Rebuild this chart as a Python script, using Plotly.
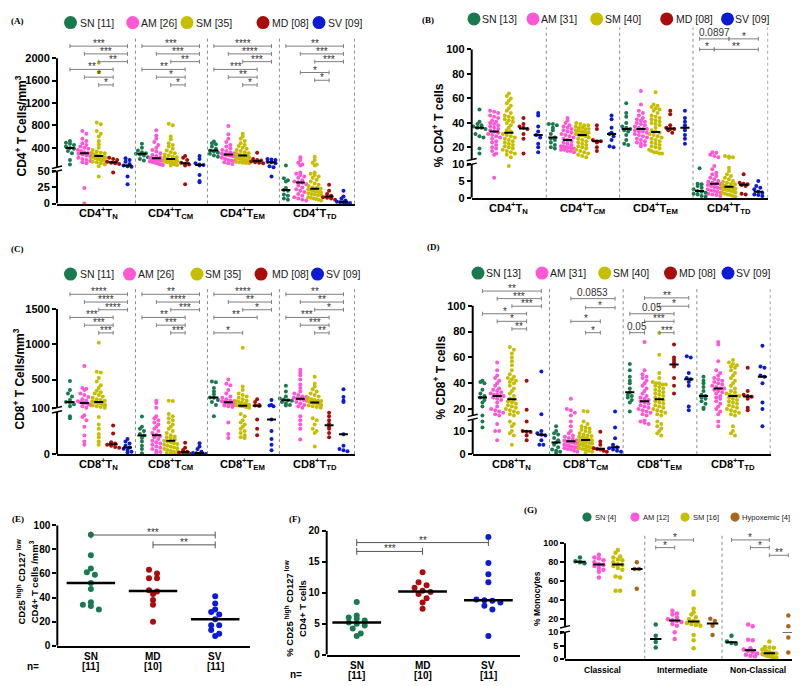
import numpy as np
import plotly.graph_objects as go

W, H = 800, 686
OFF = 8  # the page body margin shifts the figure by this many pixels
SANS = "Liberation Sans, Arial, Helvetica, sans-serif"
SERIF = "Liberation Serif, Times New Roman, serif"

C_SN, C_AM, C_SM, C_MD, C_SV, C_HY = "#197a50", "#ff57d6", "#c6bf00", "#aa0b0b", "#0b1bd6", "#a9661f"
COLORS5 = [C_SN, C_AM, C_SM, C_MD, C_SV]

LEG_A = ["SN [11]", "AM [26]", "SM [35]", "MD [08]", "SV [09]"]
LEG_B = ["SN [13]", "AM [31]", "SM [40]", "MD [08]", "SV [09]"]
LEG_G = ["SN [4]", "AM [12]", "SM [16]", "Hypoxemic [4]"]
CD4_SUBSETS = ["CD4<sup>+</sup>T<sub>N</sub>", "CD4<sup>+</sup>T<sub>CM</sub>",
               "CD4<sup>+</sup>T<sub>EM</sub>", "CD4<sup>+</sup>T<sub>TD</sub>"]
CD8_SUBSETS = ["CD8<sup>+</sup>T<sub>N</sub>", "CD8<sup>+</sup>T<sub>CM</sub>",
               "CD8<sup>+</sup>T<sub>EM</sub>", "CD8<sup>+</sup>T<sub>TD</sub>"]
TREG_GROUPS = ["SN", "MD", "SV"]
TREG_N = ["[11]", "[10]", "[11]"]
MONO_SUBSETS = ["Classical", "Intermediate", "Non-Classical"]

# (A) CD4+ T cells/mm3 -- each subset: SN, AM, SM, MD, SV
A_TN = [[520, 490, 470, 450, 420, 395, 380, 340, 300, 180, 100],
        [700, 650, 560, 520, 480, 450, 420, 400, 380, 360, 340, 320, 300, 300, 290, 280, 260, 240, 220, 200, 180, 160, 140, 120, 24, 0],
        [1920, 1750, 850, 820, 700, 650, 600, 520, 460, 400, 360, 330, 310, 300, 290, 280, 270, 250, 240, 235, 230, 225, 220, 210, 200, 190, 180, 170, 160, 150, 140, 120, 100, 70, 42],
        [220, 200, 180, 150, 130, 120, 110, 48],
        [210, 180, 150, 110, 80, 70, 60, 42, 30]]
A_TCM = [[470, 400, 350, 320, 300, 290, 280, 260, 230, 200, 170],
         [710, 620, 560, 500, 450, 400, 360, 330, 300, 270, 250, 230, 215, 205, 195, 185, 175, 165, 155, 150, 140, 130, 120, 110, 100, 90],
         [830, 800, 600, 550, 480, 450, 420, 380, 350, 320, 300, 280, 260, 240, 230, 220, 210, 200, 190, 185, 180, 175, 170, 165, 160, 155, 150, 145, 140, 130, 120, 110, 100, 90, 80],
         [250, 220, 180, 130, 110, 100, 80, 30],
         [250, 200, 120, 100, 90, 80, 44, 35, 33]]
A_TEM = [[510, 480, 460, 420, 380, 350, 330, 310, 290, 260, 240],
         [790, 640, 560, 500, 450, 420, 390, 360, 340, 320, 300, 290, 280, 275, 270, 260, 250, 240, 220, 200, 180, 170, 160, 140, 120, 110],
         [650, 600, 560, 520, 480, 450, 430, 400, 380, 360, 340, 320, 300, 290, 280, 270, 265, 260, 255, 250, 245, 240, 230, 220, 210, 200, 190, 180, 170, 160, 150, 140, 130, 125, 120],
         [310, 200, 180, 170, 155, 140, 130, 120],
         [200, 190, 180, 150, 138, 120, 70, 50, 42]]
A_TTD = [[81, 39, 36, 34, 24, 21, 20, 14, 12, 8, 6],
         [230, 180, 130, 100, 80, 48, 46, 44, 42, 40, 36, 34, 33, 32, 30, 28, 25, 22, 20, 18, 15, 12, 10, 8, 6, 5],
         [240, 180, 130, 100, 80, 48, 46, 44, 42, 40, 37, 34, 31, 29, 27, 25, 24, 23, 22, 21, 20, 19, 18, 17, 16, 15, 14, 13, 12, 10, 9, 8, 7, 6, 5],
         [29, 20, 15, 12, 10, 9, 8, 6],
         [20, 11, 8, 5, 3, 2, 2, 1, 1]]

# (B) % CD4+ T cells
B_TN = [[51, 41, 39, 38, 37, 36, 36, 35, 31, 29, 28, 19, 15],
        [50, 49, 48, 46, 45, 44, 42, 41, 40, 39, 38, 37, 36, 35, 34, 33, 32, 31, 30, 29, 28, 27, 25, 24, 22, 20, 19, 17, 15, 14, 6],
        [64, 62, 60, 58, 56, 54, 52, 50, 48, 46, 45, 44, 43, 42, 41, 40, 38, 36, 34, 33, 31, 30, 29, 28, 27, 26, 25, 24, 23, 22, 21, 20, 19, 18, 17, 16, 15, 14, 12, 9.5],
        [44, 39, 37, 36, 35, 31, 27, 15],
        [48, 46, 37, 33, 30, 28, 23, 20, 16]]
B_TCM = [[39, 39, 38, 36, 34, 31, 28, 27, 26, 24, 22, 20, 19],
         [44, 42, 40, 38, 37, 36, 35, 34, 33, 32, 31, 30, 29, 28, 27, 26, 25, 24, 23, 22, 21, 21, 20, 20, 19, 19, 18, 18, 17, 17, 16],
         [40, 39, 38, 38, 37, 36, 36, 35, 35, 34, 34, 33, 33, 32, 32, 31, 31, 30, 30, 30, 30, 29, 29, 28, 27, 26, 25, 24, 23, 22, 21, 20, 19, 18, 17, 16, 15, 14, 13, 12],
         [38, 35, 26, 25, 25, 24, 20, 17],
         [46, 43, 36, 32, 31, 29, 26, 21, 20]]
B_TEM = [[56, 48, 45, 40, 37, 36, 35, 34, 33, 30, 26, 23, 22],
         [66, 55, 50, 48, 46, 44, 43, 42, 41, 40, 39, 38, 37, 36, 35, 35, 34, 33, 33, 32, 31, 30, 29, 28, 27, 26, 25, 24, 23, 22, 21],
         [65, 55, 54, 53, 52, 51, 50, 48, 46, 45, 44, 43, 42, 41, 40, 39, 38, 36, 34, 33, 32, 31, 30, 29, 28, 27, 26, 25, 24, 23, 22, 21, 20, 19, 18, 17, 16, 16, 15, 15],
         [50, 47, 38, 36, 35, 35, 34, 32],
         [50, 44, 41, 38, 36, 34, 30, 27, 23]]
B_TTD = [[8.8, 4.2, 4.0, 3.5, 3.0, 2.5, 2.0, 1.8, 1.5, 1.2, 1.0, 0.5, 0.3],
         [16, 15.5, 14, 13, 12, 9.5, 8.5, 7.5, 7, 6.5, 6, 5.5, 5, 4.8, 4.5, 4.2, 4, 3.8, 3.5, 3.2, 3, 2.8, 2.5, 2.2, 2, 1.8, 1.5, 1.2, 1, 0.8, 0.5],
         [13, 12.5, 12, 11.5, 9, 8, 7, 6.5, 6, 5.5, 5, 4.8, 4.5, 4.2, 4, 3.8, 3.6, 3.5, 3.4, 3.3, 3.2, 3.1, 3, 2.9, 2.8, 2.7, 2.6, 2.5, 2.4, 2.3, 2.2, 2, 1.8, 1.6, 1.4, 1.2, 1, 0.8, 0.5, 0.3],
         [7, 4.5, 4.2, 4, 3.8, 3.5, 1.2, 1],
         [5, 3.5, 3, 2.5, 1.8, 1.5, 1, 0.8, 0.5]]

# (C) CD8+ T cells/mm3
C_TN = [[480, 350, 300, 260, 210, 180, 170, 150, 120, 90, 85],
        [690, 380, 370, 350, 300, 280, 250, 220, 200, 190, 180, 175, 170, 165, 160, 150, 140, 120, 100, 92, 88, 80, 65, 44, 30, 22],
        [1020, 610, 600, 520, 470, 420, 380, 340, 320, 300, 280, 260, 240, 220, 210, 200, 190, 180, 175, 170, 165, 160, 150, 140, 130, 120, 110, 100, 88, 70, 60, 48, 40, 30, 22],
        [68, 49, 28, 25, 22, 20, 17, 15],
        [36, 30, 25, 20, 16, 13, 10, 6, 4]]
C_TCM = [[89, 65, 60, 55, 48, 44, 38, 30, 20, 12, 2],
         [200, 165, 100, 90, 85, 80, 75, 70, 65, 60, 55, 50, 46, 43, 40, 36, 32, 28, 25, 22, 18, 15, 12, 8, 5, 3],
         [200, 195, 95, 90, 85, 80, 75, 70, 65, 60, 55, 50, 45, 42, 40, 38, 35, 32, 30, 28, 26, 24, 22, 20, 18, 16, 14, 12, 10, 8, 6, 5, 3, 2, 1],
         [27, 15, 10, 6, 4, 3, 2, 1],
         [26, 18, 12, 6, 3, 2, 1, 1, 0.5]]
C_TEM = [[470, 460, 380, 330, 290, 245, 240, 210, 180, 140, 90],
         [500, 440, 420, 350, 300, 260, 240, 220, 200, 195, 190, 185, 180, 175, 170, 165, 160, 155, 150, 140, 130, 120, 110, 75, 48, 38],
         [950, 400, 350, 300, 280, 260, 240, 220, 200, 190, 180, 170, 160, 150, 140, 135, 130, 128, 125, 120, 115, 110, 100, 95, 90, 80, 75, 70, 65, 60, 55, 50, 45, 40, 38],
         [220, 180, 140, 130, 125, 82, 60, 45],
         [210, 140, 130, 120, 82, 55, 36, 22, 9]]
C_TTD = [[410, 330, 260, 230, 215, 205, 200, 180, 160, 140, 130],
         [640, 600, 560, 500, 430, 380, 330, 300, 280, 260, 250, 240, 230, 225, 210, 200, 180, 160, 140, 120, 100, 90, 80, 70, 60, 35],
         [540, 440, 400, 360, 330, 300, 280, 260, 240, 220, 210, 200, 195, 190, 185, 180, 178, 175, 172, 170, 165, 160, 150, 140, 130, 120, 110, 100, 85, 80, 70, 60, 55, 50, 18],
         [98, 90, 80, 72, 65, 60, 50, 40],
         [360, 250, 200, 180, 47, 20, 12, 9, 7]]

# (D) % CD8+ T cells
D_TN = [[42, 41, 40, 35, 32, 30, 29, 27, 25, 22, 15, 14, 11.5],
        [56, 50, 46, 44, 42, 40, 38, 36, 35, 34, 33, 32, 31, 31, 30, 30, 29, 28, 27, 25, 22, 20, 19, 18, 17, 16, 15, 13, 10, 10, 6],
        [68, 66, 63, 60, 57, 54, 50, 47, 45, 44, 43, 42, 41, 40, 38, 36, 34, 32, 30, 28, 27, 26, 25, 24, 23, 22, 21, 20, 19, 18, 17, 16, 15, 14, 13, 12, 10, 9, 8, 4],
        [42, 19.5, 14, 10, 9.6, 9.5, 8, 6],
        [49, 16, 10, 9, 8.4, 8, 6, 4, 4]]
D_TCM = [[12, 10, 9, 8.5, 7, 6, 5, 4, 3, 2, 1.5, 1, 0.5],
         [28, 20, 19, 17, 15, 14, 12, 10, 9, 8, 7.5, 7, 6.5, 6, 5.8, 5.5, 5.2, 5, 4.8, 4.5, 4, 3.8, 3.5, 3.2, 3, 2.8, 2.5, 2.2, 2, 1.5, 1],
         [18.5, 18, 14, 13, 12, 11.5, 11, 10.5, 10, 9.5, 9, 8.5, 8, 7.8, 7.5, 7.2, 7, 6.8, 6.5, 6.2, 6, 5.8, 5.5, 5.2, 5, 4.8, 4.5, 4.2, 4, 3.8, 3.5, 3.2, 3, 2.8, 2.5, 2.2, 2, 1.5, 1, 0.5],
         [9.6, 5.4, 4, 2.5, 2.2, 2, 1.5, 1],
         [18, 11.5, 6.8, 4, 3, 2.5, 2, 1.5, 1]]
D_TEM = [[55, 50, 45, 42, 40, 36, 33, 31, 30, 29, 27, 25, 18],
         [72, 50, 47, 45, 44, 42, 40, 38, 36, 34, 32, 30, 29, 28, 27, 26, 25, 24, 23, 22, 21, 20, 19, 18, 17, 16, 15, 14.5, 14, 13.5, 13],
         [79, 62, 48, 44, 41, 40, 40, 39, 39, 38, 37, 36, 35, 34, 33, 32, 31, 30, 29, 28, 27, 26, 25, 24, 23, 22, 21, 20, 19, 18, 17, 16, 15, 14, 13, 12, 11, 10, 9, 8],
         [70, 60, 58, 56, 53, 44, 38, 32],
         [61, 60, 48, 44, 43, 41, 38, 22, 19]]
D_TTD = [[45, 42, 40, 37, 34, 31, 30, 29, 28, 26, 24, 21, 20],
         [72, 70, 57, 50, 48, 46, 44, 43, 42, 41, 40, 39, 38, 37, 36, 36, 35, 34, 33, 32, 30, 29, 28, 26, 24, 22, 20, 18, 16, 14, 12],
         [58, 56, 55, 54, 53, 52, 50, 48, 46, 44, 42, 40, 38, 36, 34, 33, 32, 31, 30, 30, 30, 29, 28, 27, 26, 25, 24, 23, 22, 21, 20, 19, 18, 17, 16, 15, 12, 10, 9, 8],
         [52, 34, 31, 30, 29.5, 28, 21, 19],
         [69, 53, 52, 46, 45, 40, 25, 20, 12]]

# (E) CD25high CD127low CD4+ T cells/mm3 and (F) % of CD4+ T cells: SN, MD, SV
E_SN = [92, 75, 64, 61, 59, 52, 47, 36, 34, 33, 30]
E_MD = [63, 60, 56, 56, 46, 45, 43, 38, 34, 20]
E_SV = [41, 35, 30, 28, 26, 22, 17, 17, 13, 10, 8]
F_SN = [8.5, 6.3, 6.0, 5.8, 5.5, 5.2, 5.0, 4.7, 4.2, 3.4, 3.0]
F_MD = [13.3, 11.7, 11.2, 10.8, 10.3, 10.1, 9.8, 9.1, 8.4, 7.4]
F_SV = [19, 14.8, 13, 11.7, 8.9, 8.8, 8.7, 8.4, 7.9, 7.3, 3.0]

# (G) % monocytes: SN, AM, SM, Hypoxemic
G_CLASSICAL = [[85, 81, 80, 79],
               [88, 85, 84, 82, 80, 78, 77, 76, 74, 72, 70, 64],
               [93, 90, 86, 85, 83, 82, 80, 78, 77, 76, 74, 72, 65, 64, 50, 50],
               [80, 73, 73, 52]]
G_INTERMEDIATE = [[14.5, 8.7, 6.3, 4.3],
                  [29, 26, 25, 22, 20, 19, 18, 17, 15, 13, 10, 7.5],
                  [49, 46, 31, 27, 25, 22, 20, 18, 17, 16, 15, 14, 13, 9, 7, 4],
                  [20.5, 18, 13, 9]]
G_NONCLASSICAL = [[8.7, 6.5, 6, 5.7],
                  [14.5, 12.5, 7.2, 7, 4, 3.5, 3, 2.5, 2, 1.5, 1.2, 1],
                  [6.5, 4.5, 4.3, 4.2, 3.5, 3, 2.5, 2.2, 2, 1.8, 1.5, 1.2, 1, 0.8, 0.5, 0.3],
                  [24, 12.5, 8, 2.4]]

# significance brackets: (subset, group i, group j, row, label)
A_BR = [(0, 0, 4, 0, "***"), (0, 1, 4, 1, "***"), (0, 2, 4, 2, "**"), (0, 0, 3, 3, "**"), (0, 1, 3, 4, "*"), (0, 2, 3, 5, "*"),
        (1, 0, 4, 0, "***"), (1, 1, 4, 1, "***"), (1, 2, 4, 2, "**"), (1, 0, 3, 3, "**"), (1, 1, 3, 4, "*"), (1, 2, 3, 5, "*"),
        (2, 0, 4, 0, "****"), (2, 1, 4, 1, "****"), (2, 2, 4, 2, "***"), (2, 0, 3, 3, "***"), (2, 1, 3, 4, "**"), (2, 2, 3, 5, "*"),
        (3, 0, 4, 0, "**"), (3, 1, 4, 1, "***"), (3, 2, 4, 2, "***"), (3, 1, 3, 3.4, "*"), (3, 2, 3, 4.4, "*")]
B_BR = [(3, 0, 2, 0, "0.0897"), (3, 2, 4, 0, "*"), (3, 0, 1, 1, "*"), (3, 1, 4, 1, "**")]
C_BR = [(0, 0, 4, 0, "****"), (0, 1, 4, 1, "****"), (0, 2, 4, 2, "****"), (0, 0, 3, 3, "***"), (0, 1, 3, 4, "***"), (0, 2, 3, 5, "***"),
        (1, 0, 4, 0, "**"), (1, 1, 4, 1, "****"), (1, 2, 4, 2, "***"), (1, 0, 3, 3, "**"), (1, 1, 3, 4, "***"), (1, 2, 3, 5, "***"),
        (2, 0, 4, 0, "****"), (2, 1, 4, 1, "**"), (2, 2, 4, 2, "*"), (2, 0, 3, 3, "**"), (2, 0, 2, 5, "*"),
        (3, 0, 4, 0, "**"), (3, 1, 4, 1, "**"), (3, 2, 4, 2, "*"), (3, 0, 3, 3, "***"), (3, 1, 3, 4, "***"), (3, 2, 3, 5, "**")]
D_BR = [(0, 0, 4, 0, "**"), (0, 1, 4, 1, "***"), (0, 2, 4, 2, "***"), (0, 0, 3, 3, "*"), (0, 1, 3, 4, "*"), (0, 2, 3, 5, "**"),
        (1, 1, 4, 1, "0.0853"), (1, 2, 4, 2.2, "*"), (1, 1, 3, 4, "*"), (1, 2, 3, 5.5, "*"),
        (2, 1, 4, 0.9, "**"), (2, 2, 4, 2, "*"), (2, 0, 3, 3, "0.05"), (2, 1, 3, 4, "***"), (2, 0, 1, 5.5, "0.05"), (2, 2, 3, 5.5, "***")]
E_BR = [(0, 0, 2, 0, "***"), (0, 1, 2, 1, "**")]
F_BR = [(0, 0, 2, 0, "**"), (0, 0, 1, 1, "***")]
G_BR = [(1, 0, 2, 0, "*"), (1, 0, 1, 1, "*"), (2, 0, 2, 0, "*"), (2, 1, 2, 1, "*"), (2, 2, 3, 2, "**")]

fig = go.Figure()
lay = dict(width=W, height=H, margin=dict(l=0, r=0, t=0, b=0), paper_bgcolor="white",
           plot_bgcolor="white", showlegend=False, font=dict(family=SANS, color="black"))
shapes, annots = [], []


def fx(px):
    return (px - OFF) / W


def fy(py):
    return 1 - (py - OFF) / H


def seg_px(seg, v):
    (r0, r1), (top, bot) = seg["rng"], seg["px"]
    return bot - (v - r0) / (r1 - r0) * (bot - top)


def seg_val(seg, py):
    (r0, r1), (top, bot) = seg["rng"], seg["px"]
    return r0 + (bot - py) / (bot - top) * (r1 - r0)


def pick(p, v):
    segs = p["segs"]
    return segs[0] if len(segs) == 1 or v < p["split"] else segs[1]


def ax_key(ref):
    return ref[0] + "axis" + ref[1:]


def setup_axes(p, ysize):
    lay[ax_key(p["x"])] = dict(domain=[fx(p["xdom"][0]), fx(p["xdom"][1])], range=p["xrng"],
                               anchor=p["segs"][0]["y"], showline=True, linewidth=2, linecolor="black",
                               ticks="", showticklabels=False, showgrid=False, zeroline=False)
    for seg in p["segs"]:
        lay[ax_key(seg["y"])] = dict(domain=[fy(seg["px"][1]), fy(seg["px"][0])], range=seg["rng"],
                                     anchor=p["x"], showline=False, ticks="outside", ticklen=4, tickwidth=1.5,
                                     tickcolor="black", tickvals=seg["ticks"],
                                     tickfont=dict(size=ysize, weight="bold"), showgrid=False, zeroline=False)
        shapes.append(dict(type="line", xref=p["x"] + " domain", yref=seg["y"], x0=0, x1=0,
                           y0=seg["rng"][0], y1=seg.get("line_top", seg["rng"][1]),
                           line=dict(color="black", width=2)))
    if len(p["segs"]) == 2:
        ax = p["xdom"][0]
        for py in (p["segs"][0]["px"][0], p["segs"][1]["px"][1]):
            shapes.append(dict(type="line", xref="paper", yref="paper", x0=fx(ax - 5), x1=fx(ax + 5),
                               y0=fy(py + 1.2), y1=fy(py - 1.2), line=dict(color="black", width=1.5)))


def cat_labels(p, xs, labels, dy, size):
    base = p["segs"][0]["px"][1]
    for x, lab in zip(xs, labels):
        annots.append(dict(x=x, y=fy(base + dy), xref=p["x"], yref="paper", text=lab, showarrow=False,
                           xanchor="center", yanchor="middle", font=dict(size=size, weight="bold")))


def separators(p, xs, top_px):
    bot_px = p["segs"][0]["px"][1]
    for x in xs:
        shapes.append(dict(type="line", xref=p["x"], yref="paper", x0=x, x1=x, y0=fy(bot_px), y1=fy(top_px),
                           line=dict(color="#8c8c8c", width=1, dash="dot")))


def swarm_offsets(pys, step, maxhalf, bin_px):
    bins = {}
    for i, py in enumerate(pys):
        bins.setdefault(int(round(py / bin_px)), []).append(i)
    off = [0.0] * len(pys)
    for idx in bins.values():
        n = len(idx)
        st = step if n < 2 else min(step, 2 * maxhalf / (n - 1))
        for k, i in enumerate(sorted(idx, key=lambda j: pys[j])):
            off[i] = (k - (n - 1) / 2) * st
    return off


def add_points(p, data, colors, gw, size, step, maxhalf, bin_px, med_half, med_w):
    ppx = (p["xdom"][1] - p["xdom"][0]) / (p["xrng"][1] - p["xrng"][0])
    pts, meds = {}, {}
    for g, grp in enumerate(data):
        for s, vals in enumerate(grp):
            xc = g * gw + s
            segs = [pick(p, v) for v in vals]
            pys = [seg_px(sg, v) for sg, v in zip(segs, vals)]
            offs = swarm_offsets(pys, step, maxhalf, bin_px)
            for v, sg, o in zip(vals, segs, offs):
                d = pts.setdefault((s, sg["y"]), ([], []))
                d[0].append(xc + o / ppx)
                d[1].append(v)
            m = float(np.median(vals))
            d = meds.setdefault(pick(p, m)["y"], ([], []))
            d[0].extend([xc - med_half, xc + med_half, None])
            d[1].extend([m, m, None])
    for (s, yref), (xs, ys) in pts.items():
        fig.add_trace(go.Scatter(x=xs, y=ys, xaxis=p["x"], yaxis=yref, mode="markers", cliponaxis=False,
                                 marker=dict(size=size, color=colors[s], line=dict(width=0)), hoverinfo="skip"))
    for yref, (xs, ys) in meds.items():
        fig.add_trace(go.Scatter(x=xs, y=ys, xaxis=p["x"], yaxis=yref, mode="lines",
                                 line=dict(color="black", width=med_w), hoverinfo="skip"))


def add_brackets(p, brs, gw, base_px, step_px, cap_px, color, star_size=10):
    seg = p["segs"][-1]
    ppy = (seg["px"][1] - seg["px"][0]) / (seg["rng"][1] - seg["rng"][0])
    cap = cap_px / ppy
    xs, ys = [], []
    for g, i, j, row, lab in brs:
        yv = seg_val(seg, base_px + row * step_px)
        x0, x1 = g * gw + i, g * gw + j
        xs += [x0, x0, None, x0, x1, None, x1, x1, None]
        ys += [yv - cap, yv + cap, None, yv, yv, None, yv - cap, yv + cap, None]
        star = "*" in lab
        annots.append(dict(x=(x0 + x1) / 2, y=yv, xref=p["x"], yref=seg["y"], text=lab, showarrow=False,
                           yanchor="bottom", yshift=-5 if star else -1,
                           font=dict(size=star_size if star else 10, color="#333333")))
    fig.add_trace(go.Scatter(x=xs, y=ys, xaxis=p["x"], yaxis=seg["y"], mode="lines",
                             line=dict(color=color, width=1), hoverinfo="skip"))


def add_legend(labels, colors, cy, cxs, txs, r, size):
    for lab, c, cx, tx in zip(labels, colors, cxs, txs):
        shapes.append(dict(type="circle", xref="paper", yref="paper", xsizemode="pixel", ysizemode="pixel",
                           xanchor=fx(cx), yanchor=fy(cy), x0=-r, x1=r, y0=-r, y1=r,
                           fillcolor=c, line=dict(width=0)))
        annots.append(dict(x=fx(tx), y=fy(cy), xref="paper", yref="paper", text=lab, showarrow=False,
                           xanchor="left", yanchor="middle", borderpad=0,
                           font=dict(size=size, color="#1a1a1a")))


def text(t, x, y, size, angle=0, family=SANS, bold=True):
    annots.append(dict(x=fx(x), y=fy(y), xref="paper", yref="paper", text=t, showarrow=False,
                       textangle=angle, xanchor="center", yanchor="middle",
                       font=dict(size=size, family=family, weight="bold" if bold else "normal")))


PA = dict(x="x", xdom=(57, 355), xrng=[-0.9, 19.8], split=50,
          segs=[dict(y="y", rng=[0, 50], px=(168, 201), ticks=[0, 25, 50]),
                dict(y="y2", rng=[50, 2404], px=(30, 164), ticks=[400, 800, 1200, 1600, 2000], line_top=2000)])
PB = dict(x="x2", xdom=(471.7, 768.3), xrng=[-0.53, 19.68], split=10,
          segs=[dict(y="y3", rng=[0, 10], px=(161, 195), ticks=[0, 5, 10]),
                dict(y="y4", rng=[10, 119.3], px=(20, 156.2), ticks=[20, 40, 60, 80, 100], line_top=100)])
PC = dict(x="x3", xdom=(57, 355), xrng=[-0.9, 19.8], split=100,
          segs=[dict(y="y5", rng=[0, 100], px=(413, 456), ticks=[0]),
                dict(y="y6", rng=[100, 1811], px=(286, 408.7), ticks=[100, 500, 1000, 1500], line_top=1500)])
PD = dict(x="x4", xdom=(472.7, 770.7), xrng=[-0.66, 19.56], split=15,
          segs=[dict(y="y7", rng=[0, 15], px=(420.5, 456), ticks=[0, 10]),
                dict(y="y8", rng=[15, 116.8], px=(283, 416.6), ticks=[20, 40, 60, 80, 100], line_top=100)])
PE = dict(x="x5", xdom=(57.3, 250), xrng=[-0.54, 2.56], split=None,
          segs=[dict(y="y9", rng=[0, 100], px=(528.3, 651), ticks=[0, 20, 40, 60, 80, 100])])
PF = dict(x="x6", xdom=(326.7, 520), xrng=[-0.456, 2.48], split=None,
          segs=[dict(y="y10", rng=[0, 20], px=(534, 660), ticks=[0, 5, 10, 15, 20])])
PG = dict(x="x7", xdom=(565, 799.3), xrng=[-0.79, 11.58], split=11,
          segs=[dict(y="y11", rng=[0, 10], px=(637.3, 664.3), ticks=[0, 5, 10]),
                dict(y="y12", rng=[12, 110], px=(537, 631.7), ticks=[20, 40, 60, 80, 100], line_top=100)])

# panels A-D
for p, data, subsets, brs, base, step, sep_top in [
        (PA, [A_TN, A_TCM, A_TEM, A_TTD], CD4_SUBSETS, A_BR, 40.7, 7.9, 32),
        (PB, [B_TN, B_TCM, B_TEM, B_TTD], CD4_SUBSETS, B_BR, 33.3, 10.7, 21.7),
        (PC, [C_TN, C_TCM, C_TEM, C_TTD], CD8_SUBSETS, C_BR, 293.3, 7.85, 286),
        (PD, [D_TN, D_TCM, D_TEM, D_TTD], CD8_SUBSETS, D_BR, 290, 7.7, 285)]:
    setup_axes(p, 11)
    cat_labels(p, [2, 7, 12, 17], subsets, 10, 11)
    separators(p, [4.55, 9.55, 14.55, p["xrng"][1] - 0.03], sep_top)
    add_points(p, data, COLORS5, 5, 4, 4, 6.5, 4, 0.31, 2)
    add_brackets(p, brs, 5, base, step, 2, "#7f7f7f")

# panels E, F
setup_axes(PE, 10)
cat_labels(PE, [0, 1, 2], TREG_GROUPS, 10.7, 10)
cat_labels(PE, [0, 1, 2], TREG_N, 21, 10)
add_points(PE, [[E_SN, E_MD, E_SV]], [C_SN, C_MD, C_SV], 3, 6, 8, 14, 6, 0.39, 2.5)
add_brackets(PE, E_BR, 3, 538.3, 10, 3.5, "#555555")
setup_axes(PF, 10)
cat_labels(PF, [0, 1, 2], TREG_GROUPS, 11, 10)
cat_labels(PF, [0, 1, 2], TREG_N, 21, 10)
add_points(PF, [[F_SN, F_MD, F_SV]], [C_SN, C_MD, C_SV], 3, 6, 8, 14, 6, 0.37, 2.5)
add_brackets(PF, F_BR, 3, 546, 9, 3.5, "#555555")

# panel G
setup_axes(PG, 9)
cat_labels(PG, [1.2, 5.4, 9.4], MONO_SUBSETS, 11.7, 8.5)
separators(PG, [3.42, 7.5, PG["xrng"][1] - 0.03], 537.7)
add_points(PG, [G_CLASSICAL, G_INTERMEDIATE, G_NONCLASSICAL], [C_SN, C_AM, C_SM, C_HY], 4, 4.5, 4.5, 7, 4.5, 0.3, 2)
add_brackets(PG, G_BR, 4, 543.3, 7.8, 2, "#7f7f7f")

# legends
add_legend(LEG_A, COLORS5, 16.7, [70.5, 132.7, 187, 263, 319], [79, 140, 195, 270.7, 327.3], 6.5, 10.5)
add_legend(LEG_B, COLORS5, 13, [474, 533, 596.7, 666.7, 727.5], [480.7, 540, 604, 675, 734], 6.5, 10.5)
add_legend(LEG_A, COLORS5, 272.7, [70.5, 129.5, 197, 261, 317.5], [79.3, 136.7, 204, 270.7, 325], 6.5, 10.5)
add_legend(LEG_B, COLORS5, 271.7, [478, 542, 604.7, 670.5, 728], [485, 549.3, 611.7, 678.3, 735], 6.5, 10.5)
add_legend(LEG_G, [C_SN, C_AM, C_SM, C_HY], 520, [587, 635, 685, 735], [593.5, 641.5, 691.5, 741], 4.6, 7.6)

# axis titles
text("CD4<sup>+</sup> T Cells/mm<sup>3</sup>", 21, 122.5, 12, -90)
text("% CD4<sup>+</sup> T cells", 437.5, 121.7, 12, -90)
text("CD8<sup>+</sup> T Cells/mm<sup>3</sup>", 19, 380, 12, -90)
text("% CD8<sup>+</sup> T cells", 439, 378, 12, -90)
text("CD25<sup> high</sup> CD127<sup> low</sup><br>CD4+ T cells /mm<sup>3</sup>", 27, 585.7, 9.5, -90)
text("% CD25<sup> high</sup> CD127<sup> low</sup><br>CD4+ T cells", 295, 613.3, 9.5, -90)
text("% Monocytes", 537, 603.3, 8.5, -90)
text("n=", 33, 671.7, 10)
text("n=", 296, 680.7, 10)

# panel letters (kept inside the visible area)
for lab, x, y in [("(A)", 17, 15.5), ("(B)", 428, 14), ("(C)", 17, 247), ("(D)", 433, 245.5),
                  ("(E)", 18, 522), ("(F)", 295, 522), ("(G)", 530, 513)]:
    text(lab, x, y, 9, family=SERIF)

lay["shapes"] = shapes
lay["annotations"] = annots
fig.update_layout(**lay)
fig.write_html("out.html")
